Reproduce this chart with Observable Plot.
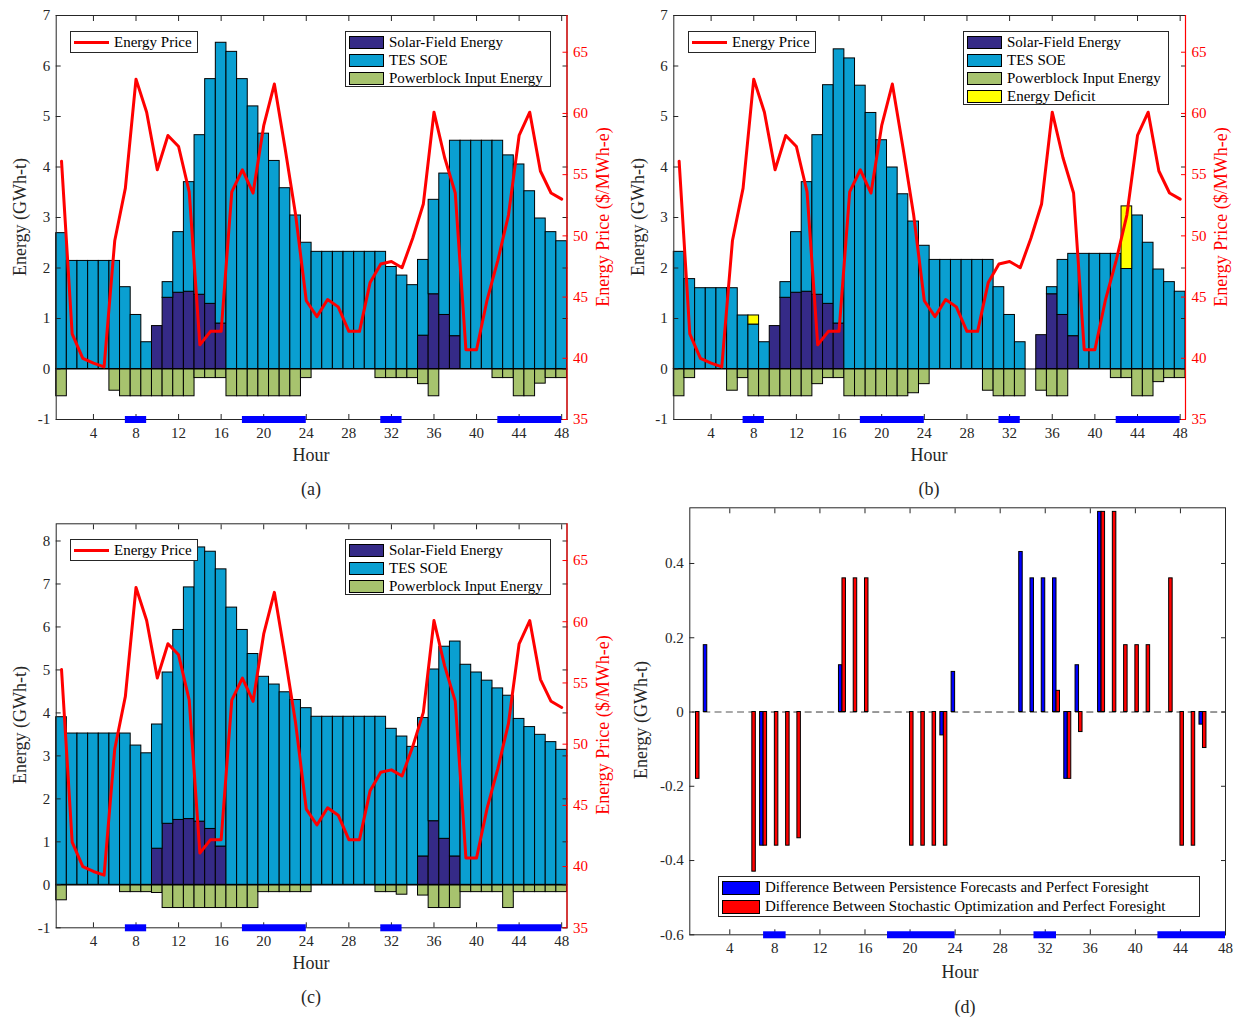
<!DOCTYPE html>
<html><head><meta charset="utf-8">
<script src="https://cdn.jsdelivr.net/npm/d3@7"></script>
<script src="https://cdn.jsdelivr.net/npm/@observablehq/plot@0.6"></script>
<style>
body{margin:0;background:#fff;}
#root{position:relative;width:1239px;height:1019px;font-family:"Liberation Serif","Times New Roman",serif;color:#262626;overflow:hidden;background:#fff}
#root svg{position:absolute}
.lbl{position:absolute;font-size:18px;white-space:nowrap;transform:translate(-50%,-50%);line-height:1}
.vlbl{position:absolute;font-size:18px;white-space:nowrap;transform:translate(-50%,-50%) rotate(-90deg);line-height:1}
.legend{position:absolute;background:#fff;border:1px solid #262626;font-size:15px;box-sizing:border-box;padding:1px 3px;white-space:nowrap;color:#000}
.row{display:flex;align-items:center;height:18px}
.sw{width:35px;height:13px;border:1px solid #000;box-sizing:border-box;margin-right:5px;flex:none}
.ln{width:35px;height:3px;background:#ff0000;margin-right:5px;flex:none}
</style></head><body><div id="root"></div>
<script>
// ---------------- data ----------------
const hours = [1,2,3,4,5,6,7,8,9,10,11,12,13,14,15,16,17,18,19,20,21,22,23,24,25,26,27,28,29,30,31,32,33,34,35,36,37,38,39,40,41,42,43,44,45,46,47,48];
const xTicks = [4,8,12,16,20,24,28,32,36,40,44,48];
const energyTicksAB = [-1,0,1,2,3,4,5,6,7];
const energyTicksC = [-1,0,1,2,3,4,5,6,7,8];
const priceTicks = [35,40,45,50,55,60,65];
const diffTicks = [-0.6,-0.4,-0.2,0,0.2,0.4];

// energy price ($/MWh-e), same in panels a, b, c
const price = [56.1,42.0,40.0,39.6,39.3,49.6,53.9,62.8,60.1,55.4,58.2,57.3,53.6,41.1,42.2,42.2,53.6,55.4,53.5,59.0,62.4,57.2,51.7,44.7,43.4,44.8,44.2,42.2,42.2,46.2,47.7,47.9,47.4,49.8,52.6,60.1,56.4,53.5,40.7,40.7,44.8,48.0,51.7,58.2,60.1,55.3,53.5,53.0];

// peak-price periods marked on the x axis
const peakStart = [7,18,31,42];
const peakEnd = [9,24,33,48];

// panel (a)
const solarA = [0,0,0,0,0,0,0,0,0,0.85,1.41,1.51,1.53,1.47,1.29,0.90,0,0,0,0,0,0,0,0,0,0,0,0,0,0,0,0,0,0,0.66,1.48,1.07,0.65,0,0,0,0,0,0,0,0,0,0];
const tesA = [2.69,2.14,2.14,2.14,2.14,2.14,1.62,1.07,0.53,0,0.31,1.20,2.17,3.16,4.45,5.56,6.28,5.74,5.20,4.66,4.12,3.58,3.04,2.50,2.32,2.32,2.32,2.32,2.32,2.32,2.32,2.02,1.85,1.66,1.50,1.87,2.80,3.87,4.52,4.52,4.52,4.52,4.23,4.05,3.52,2.98,2.71,2.53];
const pbA = [-0.54,0,0,0,0,-0.43,-0.54,-0.54,-0.54,-0.54,-0.54,-0.54,-0.54,-0.18,-0.18,-0.18,-0.54,-0.54,-0.54,-0.54,-0.54,-0.54,-0.54,-0.18,0,0,0,0,0,0,-0.18,-0.18,-0.18,-0.18,-0.30,-0.54,0,0,0,0,0,-0.18,-0.18,-0.54,-0.54,-0.29,-0.18,-0.18];

// panel (b)
const solarB = [0,0,0,0,0,0,0,0,0,0.85,1.41,1.51,1.53,1.47,1.29,0.90,0,0,0,0,0,0,0,0,0,0,0,0,0,0,0,0,0,0,0.67,1.48,1.07,0.65,0,0,0,0,0,0,0,0,0,0];
const tesB = [2.32,1.78,1.60,1.60,1.60,1.60,1.06,0.88,0.53,0,0.31,1.20,2.17,3.16,4.33,5.43,6.15,5.61,5.07,4.53,3.99,3.46,2.92,2.44,2.16,2.16,2.16,2.16,2.16,2.16,1.62,1.07,0.53,0,0,0.14,1.09,1.63,2.28,2.28,2.28,2.28,1.98,3.04,2.50,1.97,1.72,1.53];
const pbB = [-0.54,-0.18,0,0,0,-0.43,-0.18,-0.54,-0.54,-0.54,-0.54,-0.54,-0.54,-0.30,-0.18,-0.18,-0.54,-0.54,-0.54,-0.54,-0.54,-0.54,-0.48,-0.30,0,0,0,0,0,-0.43,-0.54,-0.54,-0.54,0,-0.43,-0.54,-0.54,0,0,0,0,-0.18,-0.18,-0.54,-0.54,-0.26,-0.18,-0.18];
const deficitB = [0,0,0,0,0,0,0,0.18,0,0,0,0,0,0,0,0,0,0,0,0,0,0,0,0,0,0,0,0,0,0,0,0,0,0,0,0,0,0,0,0,0,0,1.24,0,0,0,0,0];

// panel (c)
const solarC = [0,0,0,0,0,0,0,0,0,0.84,1.42,1.51,1.53,1.47,1.30,0.89,0,0,0,0,0,0,0,0,0,0,0,0,0,0,0,0,0,0,0.66,1.48,1.07,0.66,0,0,0,0,0,0,0,0,0,0];
const tesC = [3.90,3.52,3.52,3.52,3.52,3.52,3.52,3.24,3.06,2.89,3.52,4.42,5.39,6.38,6.45,6.45,6.45,5.93,5.37,4.84,4.66,4.48,4.30,4.11,3.91,3.91,3.91,3.91,3.91,3.91,3.91,3.63,3.45,3.21,3.22,3.53,4.47,5.00,5.12,4.94,4.75,4.57,4.40,3.86,3.67,3.49,3.32,3.14];
const pbC = [-0.36,0,0,0,0,0,-0.17,-0.17,-0.17,-0.19,-0.54,-0.54,-0.54,-0.54,-0.54,-0.54,-0.54,-0.54,-0.54,-0.17,-0.17,-0.17,-0.17,-0.17,0,0,0,0,0,0,-0.17,-0.17,-0.23,0,-0.25,-0.54,-0.54,-0.54,-0.17,-0.17,-0.17,-0.17,-0.54,-0.17,-0.17,-0.17,-0.17,-0.17];

// panel (d)
const persistD = [0,0.18,0,0,0,0,-0.36,0,0,0,0,0,0,0.126,0,0,0,0,0,0,0,0,-0.063,0.108,0,0,0,0,0,0.431,0.36,0.36,0.36,-0.18,0.126,0,0.539,0,0,0,0,0,0,0,0,-0.034,0,0];
const stochD = [-0.18,0,0,0,0,-0.43,-0.36,-0.36,-0.36,-0.34,0,0,0,0.36,0.36,0.36,0,0,0,-0.36,-0.36,-0.36,-0.36,0,0,0,0,0,0,0,0,0,0.057,-0.18,-0.054,0,0.539,0.539,0.18,0.18,0.18,0,0.36,-0.36,-0.36,-0.097,0,0];

const barSeries = ["Solar-Field Energy","TES SOE","Powerblock Input Energy","Energy Deficit"];
const priceSeries = "Energy Price";
const diffSeries = ["Difference Between Persistence Forecasts and Perfect Foresight","Difference Between Stochastic Optimization and Perfect Foresight"];

// ---------------- style ----------------
const FONT = '"Liberation Serif","Times New Roman",serif';
const C = {solar:"#352a87", tes:"#0a9fd1", pb:"#a7c36e", def:"#ffff00", price:"#ff0000", peak:"#0000ff", axis:"#262626", persist:"#0000ff", stoch:"#ff0000"};
const root = document.getElementById("root");
const peaks = peakStart.map((s,i)=>({start:s, end:peakEnd[i]}));
const priceRows = hours.map((h,i)=>({hour:h, price:price[i]}));
const fmt = d => String(d);

function frameAxes(yTicks) {
  return [
    Plot.axisX({anchor:"bottom", ticks:xTicks, tickSize:-5, tickPadding:13, label:null, tickFormat:fmt}),
    Plot.axisX({anchor:"top", ticks:xTicks, tickSize:-5, tickFormat:()=>"", label:null}),
    Plot.axisY({anchor:"left", ticks:yTicks, tickSize:-5, tickPadding:11, label:null, tickFormat:fmt}),
    Plot.axisY({anchor:"right", ticks:yTicks, tickSize:-5, tickFormat:()=>"", label:null}),
    Plot.frame({stroke:C.axis})
  ];
}

function place(svg, left, top) {
  svg.style.left = left + "px";
  svg.style.top = top + "px";
  root.appendChild(svg);
}

function energyPanel(p) {
  const data = hours.map((h,i)=>({hour:h, solar:p.solar[i], tes:p.tes[i], pb:p.pb[i], def:p.def ? p.def[i] : 0}));
  const x1 = d => d.hour - 0.5, x2 = d => d.hour + 0.5;
  const dims = {width:p.w, height:p.h, marginLeft:p.mL, marginRight:p.mR, marginTop:p.mT, marginBottom:p.mB};
  const style = {fontFamily:FONT, fontSize:"15px", color:C.axis, background:"transparent", overflow:"visible"};
  const bars = Plot.plot({
    ...dims, style,
    x:{domain:[0.5,48.5]}, y:{domain:p.yDomain},
    marks:[
      Plot.rect(data, {x1, x2, y1:0, y2:"pb", fill:C.pb, stroke:"#000", strokeWidth:1}),
      Plot.rect(data, {x1, x2, y1:0, y2:"solar", fill:C.solar, stroke:"#000", strokeWidth:1}),
      Plot.rect(data, {x1, x2, y1:"solar", y2:d=>d.solar+d.tes, fill:C.tes, stroke:"#000", strokeWidth:1}),
      Plot.rect(data.filter(d=>d.def>0), {x1, x2, y1:d=>d.solar+d.tes, y2:d=>d.solar+d.tes+d.def, fill:C.def, stroke:"#000", strokeWidth:1}),
      Plot.ruleY([0], {stroke:"#000", strokeWidth:1.2}),
      ...frameAxes(p.yTicks),
      Plot.ruleY(peaks, {y:p.yDomain[0], x1:"start", x2:"end", stroke:C.peak, strokeWidth:7})
    ]
  });
  place(bars, p.left, p.top);
  const line = Plot.plot({
    ...dims, style,
    x:{domain:[0.5,48.5], axis:null}, y:{domain:[35,68]},
    marks:[
      Plot.ruleX([48.5], {stroke:C.price, strokeWidth:1.2}),
      Plot.axisY({anchor:"right", ticks:priceTicks, tickSize:-5, tickPadding:11, color:C.price, label:null, tickFormat:fmt}),
      Plot.lineY(priceRows, {x:"hour", y:"price", stroke:C.price, strokeWidth:3, strokeLinejoin:"round"})
    ]
  });
  place(line, p.left, p.top);
}

energyPanel({solar:solarA, tes:tesA, pb:pbA, yDomain:[-1,7], yTicks:energyTicksAB, left:0, top:0, w:620, h:445, mL:55.7, mR:53.5, mT:15, mB:26});
energyPanel({solar:solarB, tes:tesB, pb:pbB, def:deficitB, yDomain:[-1,7], yTicks:energyTicksAB, left:618, top:0, w:620, h:445, mL:55.3, mR:53, mT:15, mB:26});
energyPanel({solar:solarC, tes:tesC, pb:pbC, yDomain:[-1,8.4], yTicks:energyTicksC, left:0, top:505, w:620, h:445, mL:55.7, mR:53.5, mT:18.3, mB:22.7});

// panel (d)
{
  const data = hours.map((h,i)=>({hour:h, persist:persistD[i], stoch:stochD[i]}));
  const bw = 0.31;
  const svg = Plot.plot({
    width:620, height:470, marginLeft:71.3, marginRight:13, marginTop:17.3, marginBottom:25.7,
    style:{fontFamily:FONT, fontSize:"15px", color:C.axis, background:"transparent", overflow:"visible"},
    x:{domain:[0.45,48]}, y:{domain:[-0.6,0.55]},
    marks:[
      Plot.ruleY(data, {y:0, x1:d=>d.hour-bw, x2:d=>d.hour+bw, stroke:"#555", strokeWidth:1.2, clip:true}),
      Plot.rect(data.filter(d=>d.persist!==0), {x1:d=>d.hour-bw, x2:"hour", y1:0, y2:"persist", fill:C.persist, stroke:"#000", strokeWidth:1}),
      Plot.rect(data.filter(d=>d.stoch!==0), {x1:"hour", x2:d=>d.hour+bw, y1:0, y2:"stoch", fill:C.stoch, stroke:"#000", strokeWidth:1}),
      ...frameAxes(diffTicks),
      Plot.ruleY(peaks, {y:-0.6, x1:"start", x2:"end", stroke:C.peak, strokeWidth:7})
    ]
  });
  place(svg, 618, 490);
}

// ---------------- text & legends ----------------
function label(text, x, y, vertical, color) {
  const d = document.createElement("div");
  d.className = vertical ? "vlbl" : "lbl";
  d.textContent = text;
  d.style.left = x + "px"; d.style.top = y + "px";
  if (color) d.style.color = color;
  root.appendChild(d);
}
function priceLegend(x, y) {
  const d = document.createElement("div");
  d.className = "legend";
  Object.assign(d.style, {left:x+"px", top:y+"px", width:"128px", height:"22px"});
  d.innerHTML = `<div class="row" style="height:19px"><div class="ln"></div><span>${priceSeries}</span></div>`;
  root.appendChild(d);
}
function barLegend(x, y, n) {
  const d = document.createElement("div");
  d.className = "legend";
  Object.assign(d.style, {left:x+"px", top:y+"px", width:"206px", height:(n*18+2)+"px"});
  const cols = [C.solar, C.tes, C.pb, C.def];
  d.innerHTML = barSeries.slice(0,n).map((s,i)=>`<div class="row"><div class="sw" style="background:${cols[i]}"></div><span>${s}</span></div>`).join("");
  root.appendChild(d);
}

priceLegend(70, 31); barLegend(345, 31, 3);
priceLegend(688, 31); barLegend(963, 31, 4);
priceLegend(70, 539); barLegend(345, 539, 3);
{
  const d = document.createElement("div");
  d.className = "legend";
  Object.assign(d.style, {left:"718px", top:"876px", width:"482px", height:"41px"});
  const cols = [C.persist, C.stoch];
  d.innerHTML = diffSeries.map((s,i)=>`<div class="row" style="height:19px"><div class="sw" style="background:${cols[i]};width:38px;height:14px"></div><span>${s}</span></div>`).join("");
  root.appendChild(d);
}

label("Hour", 311, 455); label("(a)", 311, 489);
label("Hour", 929, 455); label("(b)", 929, 489);
label("Hour", 311, 963); label("(c)", 311, 997);
label("Hour", 960, 972); label("(d)", 965, 1007);
label("Energy (GWh-t)", 20, 217, true);
label("Energy (GWh-t)", 638, 217, true);
label("Energy (GWh-t)", 20, 725, true);
label("Energy (GWh-t)", 641, 720, true);
label("Energy Price ($/MWh-e)", 603, 217, true, C.price);
label("Energy Price ($/MWh-e)", 1221, 217, true, C.price);
label("Energy Price ($/MWh-e)", 603, 725, true, C.price);
</script></body></html>
